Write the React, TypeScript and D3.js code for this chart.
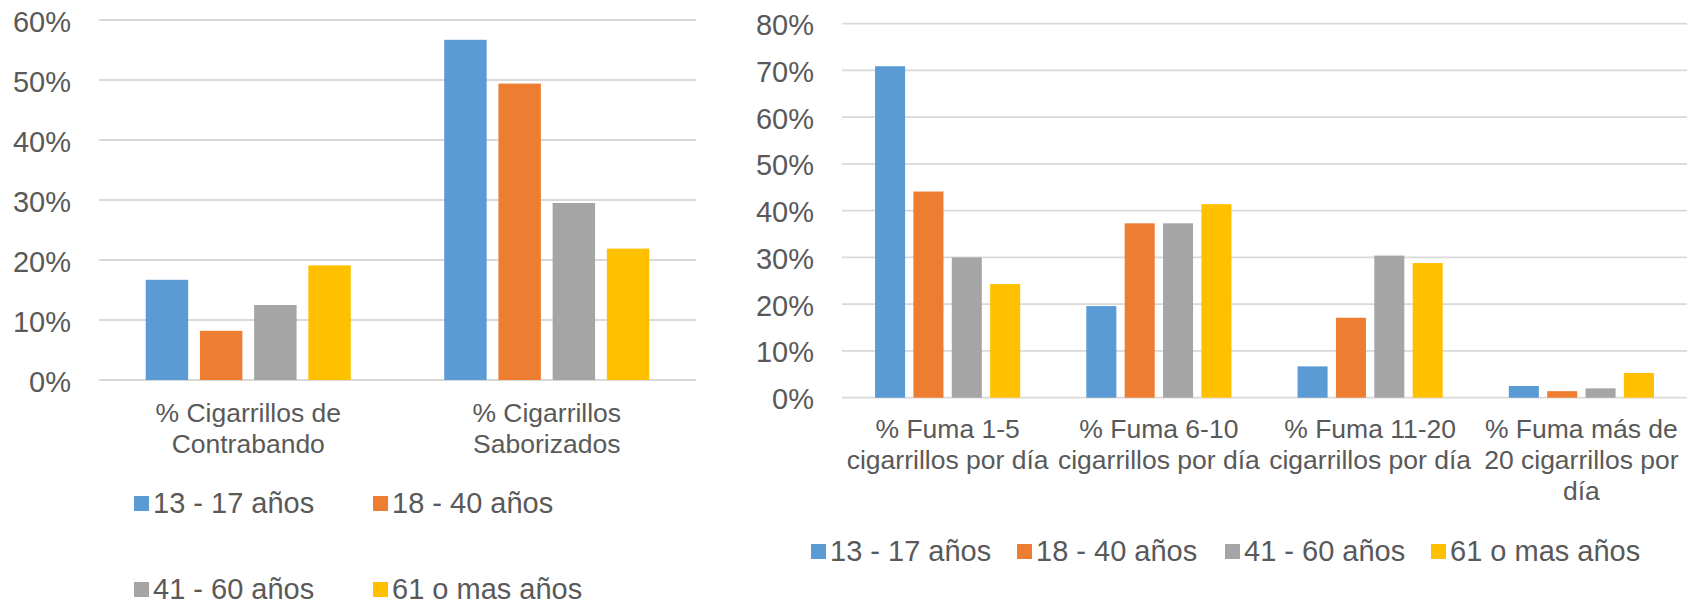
import React from "react";
import * as d3 from "d3";

const seriesNames = ["13 - 17 años", "18 - 40 años", "41 - 60 años", "61 o mas años"];
const seriesColors = ["#5B9BD5", "#ED7D31", "#A5A5A5", "#FFC000"];

const leftCategories = ["% Cigarrillos de\nContrabando", "% Cigarrillos\nSaborizados"];
const left13_17 = [0.167, 0.567];
const left18_40 = [0.082, 0.494];
const left41_60 = [0.125, 0.295];
const left61 = [0.191, 0.219];
const leftTicks = [0, 0.1, 0.2, 0.3, 0.4, 0.5, 0.6];

const rightCategories = [
  "% Fuma 1-5\ncigarrillos por día",
  "% Fuma 6-10\ncigarrillos por día",
  "% Fuma 11-20\ncigarrillos por día",
  "% Fuma más de\n20 cigarrillos por\ndía",
];
const right13_17 = [0.709, 0.196, 0.067, 0.025];
const right18_40 = [0.441, 0.373, 0.171, 0.014];
const right41_60 = [0.300, 0.373, 0.304, 0.020];
const right61 = [0.243, 0.414, 0.288, 0.053];
const rightTicks = [0, 0.1, 0.2, 0.3, 0.4, 0.5, 0.6, 0.7, 0.8];

const FONT = "'Liberation Sans', Arial, Helvetica, sans-serif";
const TEXT = "#595959";
const GRID = "#D9D9D9";

type ChartProps = {
  categories: string[];
  series: number[][];
  ticks: number[];
  yMax: number;
  x0: number;
  x1: number;
  yTop: number;
  yBottom: number;
  labelOffset: number;
};

function BarChart({ categories, series, ticks, yMax, x0, x1, yTop, yBottom, labelOffset }: ChartProps) {
  const y = d3.scaleLinear().domain([0, yMax]).range([yBottom, yTop]);
  const xOuter = d3.scaleBand<string>().domain(categories).range([x0, x1]).paddingInner(0.313).paddingOuter(0.1565);
  const xInner = d3
    .scaleBand<string>()
    .domain(seriesNames)
    .range([0, xOuter.bandwidth()])
    .paddingInner(0.217)
    .paddingOuter(0);
  const fmt = d3.format(".0%");
  return (
    <g>
      {ticks.map((t) => (
        <g key={t}>
          <line x1={x0} x2={x1} y1={y(t)} y2={y(t)} stroke={GRID} strokeWidth={1.8} />
          <text x={x0 - 28} y={y(t) + 11.5} textAnchor="end" fontSize={29} fill={TEXT} fontFamily={FONT}>
            {fmt(t)}
          </text>
        </g>
      ))}
      {categories.map((c, ci) => (
        <g key={c}>
          {series.map((vals, si) => (
            <rect
              key={si}
              x={(xOuter(c) as number) + (xInner(seriesNames[si]) as number)}
              y={y(vals[ci])}
              width={xInner.bandwidth()}
              height={y(0) - y(vals[ci])}
              fill={seriesColors[si]}
            />
          ))}
          {c.split("\n").map((line, li) => (
            <text
              key={li}
              x={(xOuter(c) as number) + xOuter.bandwidth() / 2}
              y={yBottom + labelOffset + li * 30.8}
              textAnchor="middle"
              fontSize={26.5}
              fill={TEXT}
              fontFamily={FONT}
            >
              {line}
            </text>
          ))}
        </g>
      ))}
    </g>
  );
}

function Legend({ positions }: { positions: [number, number][] }) {
  return (
    <g>
      {seriesNames.map((name, i) => (
        <g key={name}>
          <rect x={positions[i][0]} y={positions[i][1]} width={15} height={15} fill={seriesColors[i]} />
          <text x={positions[i][0] + 19} y={positions[i][1] + 17} fontSize={29} fill={TEXT} fontFamily={FONT}>
            {name}
          </text>
        </g>
      ))}
    </g>
  );
}

export default function App() {
  return (
    <svg
      width={1692}
      height={607}
      style={{ position: "absolute", left: 0, top: 0, background: "#fff" }}
    >
      <rect width={1692} height={607} fill="#fff" />
      <BarChart
        categories={leftCategories}
        series={[left13_17, left18_40, left41_60, left61]}
        ticks={leftTicks}
        yMax={0.6}
        x0={99}
        x1={696}
        yTop={20}
        yBottom={380}
        labelOffset={42}
      />
      <Legend
        positions={[
          [134, 496],
          [373, 496],
          [134, 582],
          [373, 582],
        ]}
      />
      <BarChart
        categories={rightCategories}
        series={[right13_17, right18_40, right41_60, right61]}
        ticks={rightTicks}
        yMax={0.8}
        x0={842}
        x1={1687}
        yTop={23.7}
        yBottom={397.7}
        labelOffset={40.5}
      />
      <Legend
        positions={[
          [811, 544],
          [1017, 544],
          [1225, 544],
          [1431, 544],
        ]}
      />
    </svg>
  );
}
